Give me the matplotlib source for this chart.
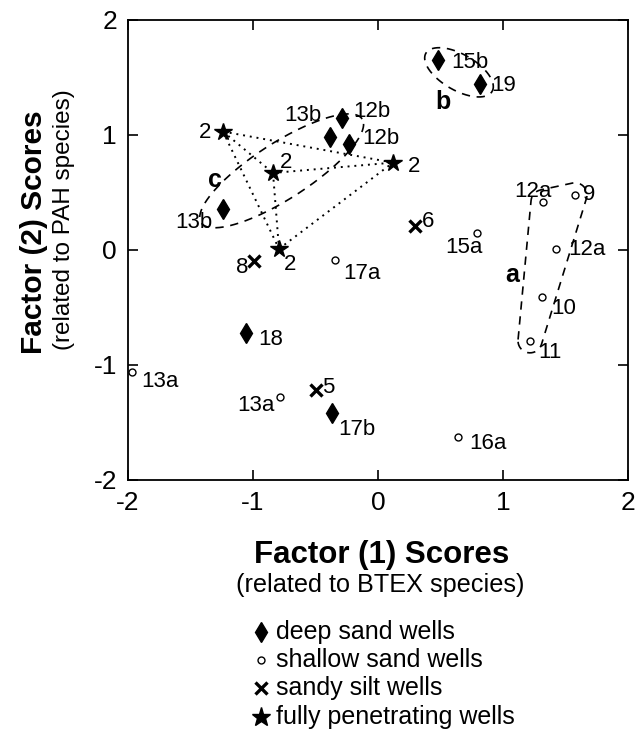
import numpy as np
import matplotlib
matplotlib.use('Agg')
import matplotlib.pyplot as plt
from matplotlib.lines import Line2D

plt.rcParams['font.family'] = ['Liberation Sans', 'DejaVu Sans']
plt.rcParams['axes.unicode_minus'] = False

# deep sand wells (filled diamonds)
deep_x = [0.48, 0.816, -0.384, -0.288, -0.232, -1.24, -1.056, -0.368]
deep_y = [1.65, 1.44, 0.98, 1.15, 0.92, 0.36, -0.72, -1.42]
deep_lab = ['15b', '19', '13b', '12b', '12b', '13b', '18', '17b']

# shallow sand wells (open circles)
shallow_x = [1.32, 1.576, 1.424, 1.312, 1.216, 0.79, -0.344, -1.968, -0.784, 0.64]
shallow_y = [0.42, 0.48, 0.01, -0.41, -0.79, 0.15, -0.09, -1.06, -1.28, -1.63]
shallow_lab = ['12a', '9', '12a', '10', '11', '15a', '17a', '13a', '13a', '16a']

# sandy silt wells (x)
silt_x = [0.296, -0.99, -0.496]
silt_y = [0.21, -0.10, -1.22]
silt_lab = ['6', '8', '5']

# fully penetrating wells (stars)
full_x = [-1.24, -0.84, -0.792, 0.12]
full_y = [1.03, 0.67, 0.01, 0.76]
full_lab = ['2', '2', '2', '2']

# label offsets in pixels (right, up)
deep_off = [(32, -2), (24, -1), (-27, 22), (30, 6), (32, 6), (-29, -14), (25, -7), (25, -16)]
shallow_off = [(-10, 10), (14, 0), (31, -1), (22, -11), (20, -12), (-13, -15), (27, -13), (28, -10), (-24, -8), (30, -6)]
silt_off = [(13, 4), (-12, -6), (12, 3)]
full_off = [(-18, -1), (13, 10), (11, -16), (21, -4)]

group_names = ['a', 'b', 'c']
group_text_x = [1.072, 0.52, -1.304]
group_text_y = [-0.217, 1.29, 0.61]

ticks = [-2, -1, 0, 1, 2]

fig = plt.figure(figsize=(6.38, 7.32), dpi=100)
ax = fig.add_axes([128 / 638, 1 - 480 / 732, 500 / 638, 460 / 732])
ax.set_xlim(-2, 2)
ax.set_ylim(-2, 2)
ax.set_xticks(ticks)
ax.set_yticks(ticks)
ax.tick_params(direction='in', length=7, width=1.2, top=True, right=True, labelsize=19, pad=8)
for sp in ax.spines.values():
    sp.set_linewidth(1.3)

# dotted lines joining the fully penetrating wells
for i in range(len(full_x)):
    for j in range(i + 1, len(full_x)):
        ax.plot([full_x[i], full_x[j]], [full_y[i], full_y[j]], color='k', lw=1.4,
                ls=(0, (1, 2.5)), zorder=1)

ax.plot(deep_x, deep_y, 'd', color='k', ms=10.5, ls='none', zorder=3)
ax.plot(shallow_x, shallow_y, 'o', mfc='white', mec='k', mew=1, ms=5, ls='none', zorder=3)
ax.plot(silt_x, silt_y, 'x', color='k', mew=2.4, ms=8, ls='none', zorder=3)
ax.plot(full_x, full_y, '*', color='k', ms=13, ls='none', zorder=3)


def put_labels(xs, ys, labs, offs):
    for x, y, t, (dx, dy) in zip(xs, ys, labs, offs):
        ax.annotate(t, (x, y), xytext=(dx * 0.72, dy * 0.72), textcoords='offset points',
                    ha='center', va='center', fontsize=16)


put_labels(deep_x, deep_y, deep_lab, deep_off)
put_labels(shallow_x, shallow_y, shallow_lab, shallow_off)
put_labels(silt_x, silt_y, silt_lab, silt_off)
put_labels(full_x, full_y, full_lab, full_off)

for t, x, y in zip(group_names, group_text_x, group_text_y):
    ax.text(x, y, t, fontsize=18, fontweight='bold', ha='center', va='center')

# dashed outlines round the groups, built in pixel space
to_px = ax.transData
to_data = ax.transData.inverted()


def draw_px(pts):
    pts = np.vstack([pts, pts[:1]])
    d = to_data.transform(pts)
    ax.plot(d[:, 0], d[:, 1], color='k', lw=1.2, ls=(0, (5, 4)), zorder=2)


def ellipse_round(p0, p1, pad, half_w):
    a = to_px.transform(p0)
    b = to_px.transform(p1)
    c = (a + b) / 2
    u = (b - a) / np.linalg.norm(b - a)
    v = np.array([-u[1], u[0]])
    semi = np.linalg.norm(b - a) / 2 + pad
    t = np.linspace(0, 2 * np.pi, 200)[:-1]
    pts = c + np.outer(semi * np.cos(t), u) + np.outer(half_w * np.sin(t), v)
    draw_px(pts)


def padded_hull(xs, ys, r):
    centres = to_px.transform(np.column_stack([xs, ys]))
    t = np.linspace(0, 2 * np.pi, 40)[:-1]
    cloud = np.vstack([c + r * np.column_stack([np.cos(t), np.sin(t)]) for c in centres])
    pts = sorted(map(tuple, cloud))

    def cross(o, a, b):
        return (a[0] - o[0]) * (b[1] - o[1]) - (a[1] - o[1]) * (b[0] - o[0])
    lower, upper = [], []
    for p in pts:
        while len(lower) >= 2 and cross(lower[-2], lower[-1], p) <= 0:
            lower.pop()
        lower.append(p)
    for p in reversed(pts):
        while len(upper) >= 2 and cross(upper[-2], upper[-1], p) <= 0:
            upper.pop()
        upper.append(p)
    draw_px(np.array(lower[:-1] + upper[:-1]))


padded_hull(shallow_x[:5], shallow_y[:5], 12)
ellipse_round((deep_x[0], deep_y[0]), (deep_x[1], deep_y[1]), 14, 18)
ellipse_round((deep_x[5], deep_y[5]),
              (np.mean(deep_x[2:5]), np.mean(deep_y[2:5])), 26, 28)

# axis titles
fig.text(34 / 638, 1 - 232 / 732, 'Factor (2) Scores', rotation=90, fontsize=21.5,
         fontweight='bold', ha='center', va='center')
fig.text(64 / 638, 1 - 220 / 732, '(related to PAH species)', rotation=90, fontsize=17.5,
         ha='center', va='center')
fig.text(382 / 638, 1 - 555 / 732, 'Factor (1) Scores', fontsize=22.5, fontweight='bold',
         ha='center', va='center')
fig.text(380 / 638, 1 - 585 / 732, '(related to BTEX species)', fontsize=18.2,
         ha='center', va='center')

# key below the plot
key_labels = ['deep sand wells', 'shallow sand wells', 'sandy silt wells', 'fully penetrating wells']
key_marks = [dict(marker='d', color='k', ms=10),
             dict(marker='o', mfc='white', mec='k', mew=1, ms=5),
             dict(marker='x', color='k', mew=2.4, ms=8),
             dict(marker='*', color='k', ms=14)]
key_rows = [632, 660, 688, 717]
for lab, mk, row in zip(key_labels, key_marks, key_rows):
    fig.add_artist(Line2D([261 / 638], [1 - row / 732], ls='none',
                          transform=fig.transFigure, **mk))
    fig.text(276 / 638, 1 - row / 732, lab, fontsize=18, ha='left', va='center')

fig.savefig('out.png', dpi=100)
